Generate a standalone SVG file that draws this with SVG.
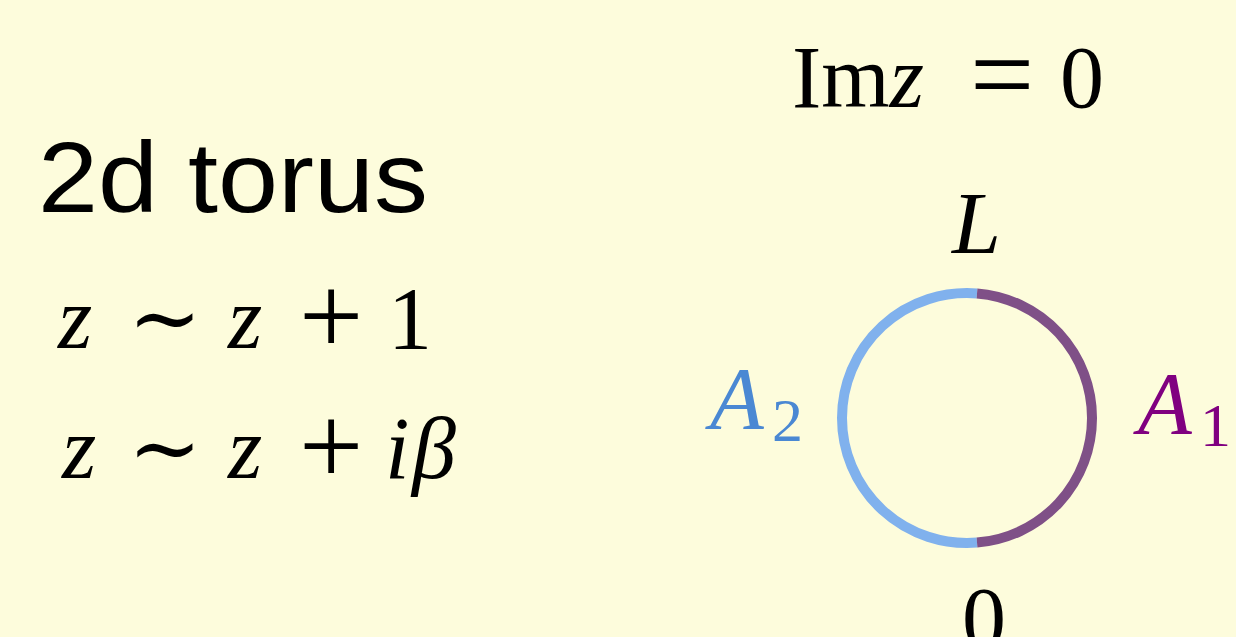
<svg xmlns="http://www.w3.org/2000/svg" width="1236" height="637" viewBox="0 0 1236 637">
<style>
.m{font-family:"Liberation Serif","DejaVu Serif",serif;fill:#000}
.i{font-style:italic}
.s{font-family:"Liberation Sans","Noto Sans",sans-serif;fill:#000}
</style>
<rect width="1236" height="637" fill="#fdfcdc"/>
<g id="title">
<text class="s" x="38" y="212" font-size="100" textLength="390" lengthAdjust="spacingAndGlyphs">2d torus</text>
</g>
<g id="eq1" class="m">
<text x="58" y="348" font-size="88"><tspan class="i">z</tspan><tspan x="128">∼</tspan><tspan x="228" class="i">z</tspan><tspan x="388">1</tspan></text>
<text x="299" y="354" font-size="114">+</text>
</g>
<g id="eq2" class="m">
<text x="62" y="478" font-size="88"><tspan class="i">z</tspan><tspan x="128">∼</tspan><tspan x="228" class="i">z</tspan><tspan x="385" class="i">i</tspan><tspan x="412" class="i">β</tspan></text>
<text x="299" y="484" font-size="114">+</text>
</g>
<g id="imz" class="m">
<text x="792" y="107" font-size="88">Im<tspan class="i">z</tspan><tspan x="1060">0</tspan></text>
<text x="970" y="113" font-size="114">=</text>
</g>
<g id="circle" fill="none" stroke-width="10">
<path d="M977 293.4 A125 125 0 1 0 977 542.6" stroke="#80b1ed"/>
<path d="M977 293.4 A125 125 0 0 1 977 542.6" stroke="#7f5087"/>
</g>
<g id="labelL" class="m" font-size="88"><text x="952" y="253" class="i">L</text></g>
<g id="label0" class="m" font-size="88"><text x="962" y="648">0</text></g>
<g id="labelA2" font-family="Liberation Serif,serif" fill="#4a88d3">
<text x="710" y="428" font-size="88" font-style="italic">A</text>
<text x="772" y="441" font-size="62">2</text>
</g>
<g id="labelA1" font-family="Liberation Serif,serif" fill="#800080">
<text x="1138" y="433" font-size="88" font-style="italic">A</text>
<text x="1200" y="446" font-size="62">1</text>
</g>
</svg>
